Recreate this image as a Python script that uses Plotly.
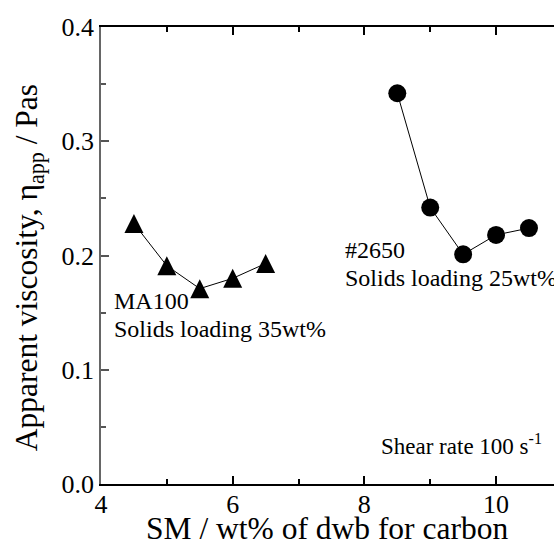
import plotly.graph_objects as go

# Data
ma100_x = [4.5, 5.0, 5.5, 6.0, 6.5]
ma100_y = [0.228, 0.191, 0.171, 0.180, 0.193]
c2650_x = [8.5, 9.0, 9.5, 10.0, 10.5]
c2650_y = [0.342, 0.242, 0.201, 0.218, 0.224]

x_tickvals = [4, 6, 8, 10]
y_tickvals = [0.0, 0.1, 0.2, 0.3, 0.4]
y_ticktext = ["0.0", "0.1", "0.2", "0.3", "0.4"]

FONT = "Liberation Serif, Times New Roman, serif"

fig = go.Figure()
fig.add_trace(go.Scatter(
    x=ma100_x, y=ma100_y, mode="lines+markers",
    line=dict(color="black", width=1),
    marker=dict(symbol="arrow-down", angle=180, standoff=9.5, size=19, color="black"),
    showlegend=False, cliponaxis=False,
))
fig.add_trace(go.Scatter(
    x=c2650_x, y=c2650_y, mode="lines+markers",
    line=dict(color="black", width=1),
    marker=dict(symbol="circle", size=18, color="black"),
    showlegend=False, cliponaxis=False,
))

fig.update_layout(
    template="none",
    width=554, height=544,
    margin=dict(l=101, r=0, t=27, b=60, autoexpand=False),
    paper_bgcolor="white", plot_bgcolor="white",
    font=dict(family=FONT, color="black"),
    xaxis=dict(
        range=[4, 10.88], tickvals=x_tickvals, ticks="inside", ticklen=8, tickwidth=1.5,
        tickcolor="black", showline=True, linecolor="black", linewidth=1.5, mirror="ticks",
        showgrid=False, zeroline=False, automargin=False, tickfont=dict(size=26, family=FONT),
        ticklabelstandoff=-4,
        minor=dict(dtick=1, tick0=4, ticks="inside", ticklen=5, tickwidth=1.5, tickcolor="black", showgrid=False),
    ),
    yaxis=dict(
        range=[0, 0.4], tickvals=y_tickvals, ticktext=y_ticktext, ticks="inside", ticklen=8, tickwidth=1.5,
        tickcolor="#555", showline=True, linecolor="#666", linewidth=1.5, mirror=False,
        showgrid=False, zeroline=False, automargin=False, tickfont=dict(size=26, family=FONT),
        minor=dict(dtick=0.05, tick0=0, ticks="inside", ticklen=5, tickwidth=1.5, tickcolor="#555", showgrid=False),
    ),
    annotations=[
        dict(text="SM / wt% of dwb for carbon", xref="paper", yref="paper", x=0.498, y=-0.097,
             xanchor="center", yanchor="middle", showarrow=False, font=dict(size=31.5, family=FONT)),
        dict(text="Apparent viscosity, η<sub>app</sub> / Pas", xref="paper", yref="paper",
             x=-0.157, y=0.474, textangle=-90, xanchor="center", yanchor="middle",
             showarrow=False, font=dict(size=31.5, family=FONT)),
        dict(text="MA100", x=4.17, y=0.1605, xanchor="left", yanchor="middle",
             showarrow=False, font=dict(size=24, family=FONT)),
        dict(text="Solids loading 35wt%", x=4.17, y=0.136, xanchor="left", yanchor="middle",
             showarrow=False, font=dict(size=24, family=FONT)),
        dict(text="#2650", x=7.67, y=0.2046, xanchor="left", yanchor="middle",
             showarrow=False, font=dict(size=24, family=FONT)),
        dict(text="Solids loading 25wt%", x=7.67, y=0.180, xanchor="left", yanchor="middle",
             showarrow=False, font=dict(size=24, family=FONT)),
        dict(text="Shear rate 100 s<sup>-1</sup>", x=8.22, y=0.0346, xanchor="left", yanchor="middle",
             showarrow=False, font=dict(size=23, family=FONT)),
    ],
)

fig.write_html("out.html", config={"displayModeBar": False},
               post_script="document.body.style.margin='0';document.body.style.overflow='hidden';")
